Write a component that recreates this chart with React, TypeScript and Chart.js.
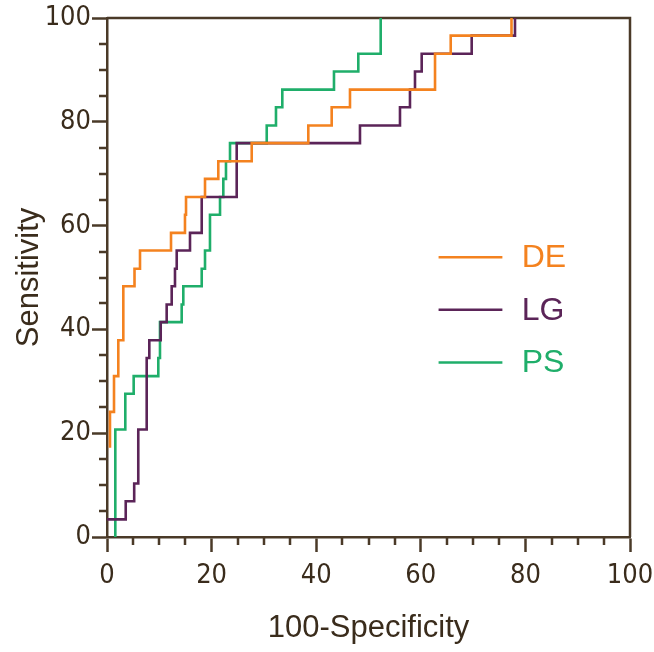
import React, { useEffect, useRef } from "react";
import { Chart, registerables } from "chart.js";

Chart.register(...registerables);

const W = 654;
const H = 652;

// 1 - specificity (%) where each curve steps up, and sensitivity (%) reached there
const deFpr = [0.57, 0.57, 1.34, 2.16, 3.12, 5.26, 6.31, 12.24, 14.91, 15.11, 18.74, 21.28, 27.67, 38.49, 42.96, 46.46, 62.72, 65.72, 77.34];
const deSens = [17.2, 24.1, 31.0, 37.9, 48.3, 51.7, 55.2, 58.6, 62.1, 65.5, 69.0, 72.4, 75.9, 79.3, 82.8, 86.2, 93.1, 96.6, 100];

const lgFpr = [0, 3.58, 5.2, 5.98, 7.59, 8.09, 10.27, 11.41, 12.37, 13.0, 13.33, 15.87, 18.11, 24.8, 48.37, 56.02, 57.93, 58.89, 60.17, 69.73, 78.01];
const lgSens = [3.4, 6.9, 10.3, 20.7, 34.5, 37.9, 41.4, 44.8, 48.3, 51.7, 55.2, 58.6, 65.5, 75.9, 79.3, 82.8, 86.2, 89.7, 93.1, 96.6, 100];

const psFpr = [1.59, 1.59, 3.5, 5.1, 9.81, 10.13, 14.28, 14.59, 18.11, 18.74, 19.69, 21.61, 22.24, 22.75, 23.52, 30.54, 32.31, 33.52, 43.4, 48.05, 52.33];
const psSens = [0, 20.7, 27.6, 31.0, 34.5, 41.4, 44.8, 48.3, 51.7, 55.2, 62.1, 65.5, 69.0, 72.4, 75.9, 79.3, 82.8, 86.2, 89.7, 93.1, 100];

const seriesNames = ["DE", "LG", "PS"];
const seriesColors = ["#f4821f", "#5b2458", "#1fae6a"];

const majorTicks = [0, 20, 40, 60, 80, 100];
const minorTicks = [5, 10, 15, 25, 30, 35, 45, 50, 55, 65, 70, 75, 85, 90, 95];

const AXIS = "#4a3a28";
const TEXT = "#3a2c1c";
const TICK_FONT = "'Liberation Sans Narrow', 'Arial Narrow', 'DejaVu Sans Condensed', sans-serif";
const TITLE_FONT = "'Liberation Sans', Arial, sans-serif";

const toPoints = (xs: number[], ys: number[]) => xs.map((x, i) => ({ x, y: ys[i] }));

const framePlugin = {
  id: "frameAndMinor",
  beforeDatasetsDraw(chart: any) {
    const { ctx, chartArea: a, scales } = chart;
    ctx.save();
    ctx.strokeStyle = AXIS;
    ctx.lineWidth = 2.5;
    ctx.beginPath();
    ctx.moveTo(a.left, a.top);
    ctx.lineTo(a.right, a.top);
    ctx.lineTo(a.right, a.bottom);
    ctx.stroke();
    ctx.lineWidth = 2.5;
    ctx.beginPath();
    for (const v of minorTicks) {
      const px = Math.round(scales.x.getPixelForValue(v));
      ctx.moveTo(px, a.bottom);
      ctx.lineTo(px, a.bottom + 8);
      const py = Math.round(scales.y.getPixelForValue(v));
      ctx.moveTo(a.left, py);
      ctx.lineTo(a.left - 8, py);
    }
    ctx.stroke();
    ctx.restore();
  },
  afterDatasetsDraw(chart: any) {
    const { ctx, chartArea: a } = chart;
    const w = a.right - a.left;
    const h = a.bottom - a.top;
    const x0 = a.left + w * 0.634;
    const x1 = a.left + w * 0.756;
    const tx = a.left + w * 0.793;
    const ys = [0.461, 0.562, 0.664];
    ctx.save();
    ctx.font = `32px ${TITLE_FONT}`;
    ctx.textBaseline = "middle";
    ctx.textAlign = "left";
    seriesNames.forEach((name, i) => {
      const y = a.top + h * ys[i];
      ctx.strokeStyle = seriesColors[i];
      ctx.lineWidth = 2.5;
      ctx.beginPath();
      ctx.moveTo(x0, y);
      ctx.lineTo(x1, y);
      ctx.stroke();
      ctx.fillStyle = seriesColors[i];
      ctx.fillText(name, tx, y + 1);
    });
    ctx.restore();
  },
};

export default function App() {
  const ref = useRef<HTMLCanvasElement | null>(null);
  useEffect(() => {
    if (!ref.current) return;
    const data = [toPoints(deFpr, deSens), toPoints(lgFpr, lgSens), toPoints(psFpr, psSens)];
    const chart = new Chart(ref.current, {
      type: "scatter",
      data: {
        datasets: seriesNames.map((name, i) => ({
          label: name,
          data: data[i],
          showLine: true,
          stepped: "before",
          borderColor: seriesColors[i],
          backgroundColor: seriesColors[i],
          borderWidth: 2.6,
          pointRadius: 0,
          pointHoverRadius: 0,
          fill: false,
          clip: false,
        })),
      } as any,
      options: {
        responsive: false,
        devicePixelRatio: 1,
        animation: false,
        layout: { padding: { left: 0, top: 18, right: 24, bottom: 0 } },
        plugins: { legend: { display: false }, tooltip: { enabled: false } },
        scales: {
          x: {
            type: "linear",
            min: 0,
            max: 100,
            afterFit: (s: any) => { s.height = 115; s.paddingLeft = 0; s.paddingRight = 0; },
            afterBuildTicks: (s: any) => { s.ticks = majorTicks.map((v) => ({ value: v })); },
            ticks: { color: TEXT, font: { family: TICK_FONT, size: 27 }, padding: 8, maxRotation: 0 },
            grid: { display: true, drawOnChartArea: false, drawTicks: true, tickLength: 15, tickWidth: 2.5, tickColor: AXIS, color: AXIS },
            border: { display: true, color: AXIS, width: 2.5 },
            title: { display: true, text: "100-Specificity", color: TEXT, font: { family: TITLE_FONT, size: 31 }, padding: { top: 0, bottom: 5 } },
          },
          y: {
            type: "linear",
            min: 0,
            max: 100,
            afterFit: (s: any) => { s.width = 107; s.paddingTop = 0; s.paddingBottom = 0; },
            afterBuildTicks: (s: any) => { s.ticks = majorTicks.map((v) => ({ value: v })); },
            ticks: { color: TEXT, font: { family: TICK_FONT, size: 27 }, padding: 1 },
            grid: { display: true, drawOnChartArea: false, drawTicks: true, tickLength: 15, tickWidth: 2.5, tickColor: AXIS, color: AXIS },
            border: { display: true, color: AXIS, width: 2.5 },
            title: { display: true, text: "Sensitivity", color: TEXT, font: { family: TITLE_FONT, size: 31 }, padding: { top: 11, bottom: 0 } },
          },
        },
      } as any,
      plugins: [framePlugin],
    });
    return () => chart.destroy();
  }, []);
  return (
    <div style={{ position: "fixed", left: 0, top: 0, width: W, height: H, background: "#fff" }}>
      <canvas ref={ref} width={W} height={H} style={{ width: W, height: H, display: "block" }} />
    </div>
  );
}
